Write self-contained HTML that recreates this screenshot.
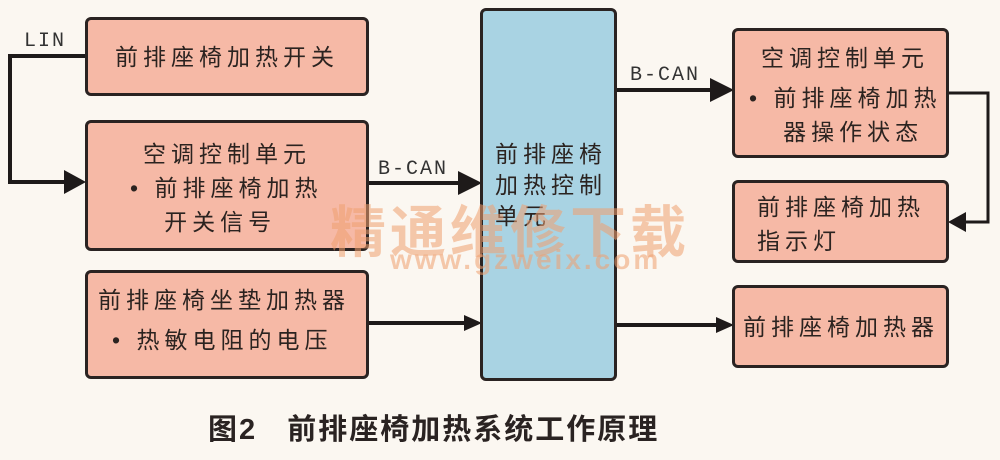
<!DOCTYPE html>
<html><head><meta charset="utf-8"><style>
body{margin:0;width:1000px;height:460px;background:#fbf7f1;position:relative;overflow:hidden;font-family:"Liberation Sans","Noto Sans CJK SC",sans-serif;}
.b{position:absolute;background:#f6b9a6;border:3px solid #2a2322;border-radius:6px;box-sizing:border-box;color:#2b2320;font-size:23px;letter-spacing:5px;line-height:34px;white-space:nowrap;}
.t{position:absolute;font-family:"Liberation Mono",monospace;font-size:20px;color:#333;letter-spacing:2px;}
</style></head><body>
<svg width="1000" height="460" style="position:absolute;left:0;top:0">
<g stroke="#1e1a1a" stroke-width="4" fill="none">
<polyline points="86,56 10,56 10,182 70,182"/>
<line x1="368" y1="183" x2="464" y2="183"/>
<line x1="368" y1="323" x2="466" y2="323"/>
<line x1="616" y1="90" x2="716" y2="90"/>
<line x1="616" y1="325" x2="718" y2="325"/>
</g>
<polyline points="948,93 988,93 988,222 964,222" stroke="#1e1a1a" stroke-width="3" fill="none"/>
<g fill="#1e1a1a">
<polygon points="86,182 64,170 64,194"/>
<polygon points="482,183 458,171 458,195"/>
<polygon points="482,323 464,315 464,331"/>
<polygon points="734,90 710,78 710,102"/>
<polygon points="734,325 716,317 716,333"/>
<polygon points="948,222 966,212 966,232"/>
</g>
</svg>
<div class="t" style="left:24px;top:30px">LIN</div>
<div class="t" style="left:378px;top:158px">B-CAN</div>
<div class="t" style="left:630px;top:64px">B-CAN</div>
<div class="b" style="left:85px;top:17px;width:284px;height:79px;text-align:center;padding-top:20px">前排座椅加热开关</div>
<div class="b" style="left:85px;top:120px;width:284px;height:131px;padding:14px 0 0 0"><div style="text-align:center">空调控制单元</div><div style="padding-left:42px">•&nbsp;前排座椅加热<br>&nbsp;&nbsp;&nbsp;开关信号</div></div>
<div class="b" style="left:85px;top:270px;width:284px;height:109px;padding:10px 0 0 10px">前排座椅坐垫加热器<div style="padding-left:14px;margin-top:6px">•&nbsp;热敏电阻的电压</div></div>
<div class="b" style="left:480px;top:8px;width:137px;height:373px;background:#a9d3e3;padding:128px 0 0 12px;line-height:31px">前排座椅<br>加热控制<br>单元</div>
<div class="b" style="left:732px;top:28px;width:217px;height:130px;padding:10px 0 0 14px"><div style="padding-left:12px">空调控制单元</div><div style="margin-top:6px">•&nbsp;前排座椅加热<br>&nbsp;&nbsp;&nbsp;器操作状态</div></div>
<div class="b" style="left:732px;top:180px;width:217px;height:83px;padding:7px 0 0 22px">前排座椅加热<br>指示灯</div>
<div class="b" style="left:732px;top:285px;width:217px;height:83px;padding:22px 0 0 8px">前排座椅加热器</div>
<div style="position:absolute;left:330px;top:188px;font-size:56px;font-weight:bold;color:#f0a070;opacity:.55;letter-spacing:4px">精通维修下载</div>
<div style="position:absolute;left:390px;top:244px;font-size:28px;font-weight:bold;color:#f0a070;opacity:.55;letter-spacing:3px">www.gzweix.com</div>
<div style="position:absolute;left:208px;top:406px;font-size:29px;font-weight:bold;color:#2a2322;letter-spacing:2px;white-space:nowrap">图2&nbsp;&nbsp;&nbsp;前排座椅加热系统工作原理</div>
</body></html>
